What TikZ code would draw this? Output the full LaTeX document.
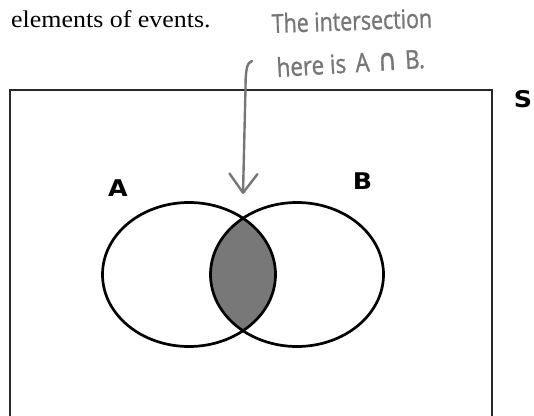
\documentclass[tikz,border=0pt]{standalone}
\usepackage{fontspec}
\setmainfont{Liberation Serif}
\newfontfamily\hand[FakeBold=1.2]{Open Sans}
\newfontfamily\symf[FakeBold=1.2]{DejaVu Sans}
\newfontfamily\heavy{DejaVu Sans}
\usetikzlibrary{shapes.geometric,arrows.meta}
\definecolor{handgray}{RGB}{118,118,118}
\definecolor{lensgray}{RGB}{120,120,120}
\definecolor{framegray}{RGB}{40,40,40}
\begin{document}
\begin{tikzpicture}[x=1pt,y=-1pt,
  venn/.style={ellipse, draw=black, line width=2.7pt, minimum width=173pt, minimum height=144pt, inner sep=0pt, outer sep=0pt},
  setlabel/.style={font=\heavy\bfseries\fontsize{23}{23}\selectfont, inner sep=0pt, anchor=center},
  handtext/.style={text=handgray, font=\hand\fontsize{26}{26}\selectfont, inner sep=0pt, anchor=base west},
  pointer/.style={draw=handgray, line width=2.4pt, line cap=round, line join=round, -{Straight Barb[length=19pt,width=28pt,round]}},
  framestyle/.style={draw=framegray, line width=2.4pt}
]
\useasboundingbox (0,0) rectangle (534,415);
\clip (0,0) rectangle (534,415);
% intro text
\node[anchor=base west, inner sep=0pt, font=\fontsize{24}{24}\selectfont] (intro) at (11,27) {\scalebox{1.08}[1]{elements of events.}};
% frame (sample space)
\coordinate (fbl) at (10,430);
\coordinate (ftl) at (10,90);
\coordinate (ftr) at (492,90);
\coordinate (fbr) at (492,430);
\draw[framestyle] (fbl) -- (ftl) -- (ftr) -- (fbr);
% lens
\begin{scope}
  \clip (189,274.5) ellipse [x radius=86.5, y radius=72];
  \fill[lensgray] (297,274.5) ellipse [x radius=86.5, y radius=72];
\end{scope}
% sets
\node[venn] (setA) at (189,274.5) {};
\node[venn] (setB) at (297,274.5) {};
% labels
\node[setlabel] (labA) at (118,188.5) {\scalebox{1.1}[1]{A}};
\node[setlabel] (labB) at (362.5,181.5) {\scalebox{1.1}[1]{B}};
\node[setlabel] (labS) at (523,99.5) {\scalebox{1.1}[1]{S}};
% handwritten note
\node[handtext, rotate=2] (note1) at (272,33) {\scalebox{0.82}[1]{The intersection}};
\node[handtext, rotate=3.5] (note2) at (277,77) {\scalebox{0.86}[1]{here is\hspace{4pt} A\hspace{3pt} {\symf\fontsize{30}{30}\selectfont ∩}\hspace{3pt} B.}};
% pointer arrow
\coordinate (hookstart) at (252,61);
\coordinate (tip) at (243,194);
\draw[pointer] (hookstart) .. controls (247,62) and (245.5,70) .. (245.5,88) -- (tip);
\end{tikzpicture}
\end{document}
